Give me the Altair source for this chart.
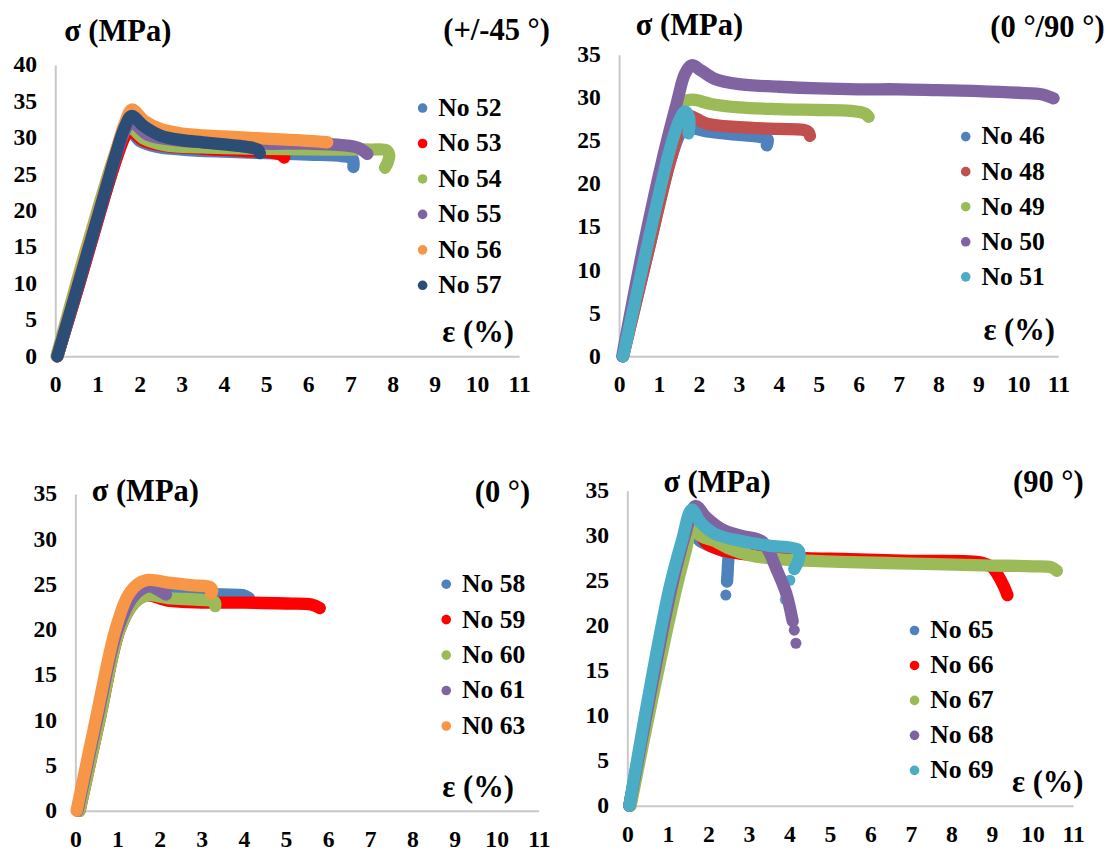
import altair as alt
import pandas as pd

FONT = "Liberation Serif"

# ---------------- Panel 1 (+/-45 °) ----------------
P1_NAMES = ["No 52", "No 53", "No 54", "No 55", "No 56", "No 57"]
P1_COLORS = ["#4F81BD", "#FF0000", "#9BBB59", "#8064A2", "#F79646", "#2C4D75"]
S52_X = [0.05, 0.57, 1.07, 1.47, 1.65, 1.78, 2.0, 2.4, 3.0, 4.0, 5.0, 6.0, 6.8, 7.05, 7.07]
S52_Y = [0, 10, 20, 27.5, 30.2, 31.0, 29.6, 28.8, 28.4, 28.1, 27.9, 27.7, 27.5, 27.1, 26.0]
S53_X = [0.05, 0.57, 1.07, 1.47, 1.65, 1.76, 2.1, 2.6, 3.5, 4.5, 5.1, 5.35, 5.43]
S53_Y = [0, 10, 20, 27.5, 30.2, 31.0, 29.6, 28.9, 28.5, 28.2, 28.0, 27.7, 27.3]
S54_X = [0.03, 0.5, 1.0, 1.4, 1.6, 1.76, 2.1, 2.6, 3.5, 5.0, 6.5, 7.5, 7.85, 7.92, 7.88, 7.82]
S54_Y = [0, 10, 20, 27.5, 30.5, 31.5, 29.9, 29.0, 28.7, 28.5, 28.4, 28.4, 28.3, 27.6, 26.6, 25.9]
S55_X = [0.05, 0.55, 1.05, 1.45, 1.65, 1.8, 2.2, 3.0, 4.0, 5.0, 6.0, 6.8, 7.2, 7.4]
S55_Y = [0, 10, 20, 27.8, 31.0, 32.2, 30.4, 29.6, 29.3, 29.2, 29.2, 29.0, 28.6, 27.8]
S56_X = [0.05, 0.53, 1.03, 1.43, 1.65, 1.82, 2.1, 2.5, 3.0, 4.0, 5.0, 6.0, 6.45]
S56_Y = [0, 10, 20, 28.0, 32.0, 33.9, 32.4, 31.2, 30.6, 30.2, 29.9, 29.6, 29.4]
S57_X = [0.05, 0.55, 1.05, 1.45, 1.65, 1.81, 2.1, 2.5, 3.0, 3.5, 4.0, 4.5, 4.8, 4.85]
S57_Y = [0, 10, 20, 28.0, 31.5, 33.0, 31.6, 30.3, 29.7, 29.4, 29.1, 28.8, 28.4, 27.9]

# ---------------- Panel 2 (0 °/90 °) ----------------
P2_NAMES = ["No 46", "No 48", "No 49", "No 50", "No 51"]
P2_COLORS = ["#4F81BD", "#C0504D", "#9BBB59", "#8064A2", "#4BACC6"]
S46_X = [0.1, 0.72, 1.3, 1.6, 1.8, 2.2, 3.0, 3.5, 3.72, 3.7]
S46_Y = [0, 12, 23, 26.3, 26.5, 26.1, 25.7, 25.5, 25.2, 24.5]
S48_X = [0.1, 0.72, 1.3, 1.6, 1.75, 2.2, 3.0, 4.0, 4.6, 4.75, 4.78]
S48_Y = [0, 12, 23, 27.3, 27.9, 27.0, 26.6, 26.4, 26.3, 26.0, 25.6]
S49_X = [0.1, 0.7, 1.25, 1.5, 1.65, 1.85, 2.3, 3.0, 4.0, 5.0, 5.8, 6.15, 6.25]
S49_Y = [0, 13, 24, 28.5, 29.6, 29.8, 29.3, 28.9, 28.7, 28.6, 28.5, 28.2, 27.8]
S50_X = [0.08, 0.6, 1.12, 1.45, 1.65, 1.82, 2.05, 2.4, 3.0, 4.0, 5.0, 6.0, 7.0, 8.0, 9.0, 10.0, 10.6, 10.88]
S50_Y = [0, 12.5, 23.5, 29.5, 32.8, 33.8, 33.2, 32.2, 31.6, 31.3, 31.1, 31.0, 31.0, 30.9, 30.8, 30.6, 30.4, 29.95]
S51_X = [0.1, 0.68, 1.26, 1.5, 1.65, 1.75, 1.76, 1.74]
S51_Y = [0, 12.3, 23.8, 27.3, 28.4, 27.8, 26.8, 25.9]

# ---------------- Panel 3 (0 °) ----------------
P3_NAMES = ["No 58", "No 59", "No 60", "No 61", "N0 63"]
P3_COLORS = ["#4F81BD", "#FF0000", "#9BBB59", "#8064A2", "#F79646"]
S58_X = [0.05, 0.52, 1.0, 1.35, 1.6, 1.9, 2.5, 3.0, 3.5, 4.0, 4.12]
S58_Y = [0, 10.2, 20, 23.5, 24.4, 24.6, 24.2, 24.0, 23.9, 23.8, 23.5]
S59_X = [0.1, 0.58, 1.05, 1.4, 1.7, 2.2, 3.0, 4.0, 5.0, 5.6, 5.8]
S59_Y = [0, 10.2, 20, 23, 23.8, 23.2, 23.0, 23.0, 22.9, 22.8, 22.4]
S60_X = [0.1, 0.58, 1.05, 1.4, 1.7, 2.2, 3.0, 3.3, 3.32]
S60_Y = [0, 10.2, 20, 23, 23.8, 23.5, 23.3, 23.1, 22.6]
S61_X = [0.05, 0.52, 1.0, 1.4, 1.75, 2.0, 2.15]
S61_Y = [0, 10.2, 20, 23.8, 24.8, 24.3, 23.9]
S63_X = [0.03, 0.48, 0.95, 1.25, 1.5, 1.75, 2.2, 2.8, 3.2, 3.25, 3.22]
S63_Y = [0, 10, 20, 23.8, 25.1, 25.5, 25.2, 24.9, 24.7, 24.3, 24.0]

# ---------------- Panel 4 (90 °) ----------------
P4_NAMES = ["No 65", "No 66", "No 67", "No 68", "No 69"]
P4_COLORS = ["#4F81BD", "#FF0000", "#9BBB59", "#8064A2", "#4BACC6"]
S65_X = [0.05, 0.52, 1.05, 1.4, 1.6, 1.75, 2.25, 2.47, 2.48, 2.46]
S65_Y = [0, 11.5, 23.5, 29.5, 31.8, 29.6, 28.5, 28.0, 26.5, 24.9]
S65_ISO_X = [2.43]
S65_ISO_Y = [23.4]
S66_X = [0.05, 0.55, 1.1, 1.45, 1.62, 1.75, 2.0, 2.5, 3.5, 4.4, 5.5, 7.0, 8.75, 9.0, 9.12, 9.3, 9.38]
S66_Y = [0, 11.5, 23.5, 29.5, 30.7, 30.3, 29.0, 28.2, 27.7, 27.5, 27.4, 27.2, 27.0, 26.5, 25.8, 24.3, 23.4]
S67_X = [0.08, 0.62, 1.2, 1.45, 1.6, 1.8, 2.16, 2.5, 3.04, 4.0, 5.24, 7.0, 8.76, 10.0, 10.45, 10.6]
S67_Y = [0, 12, 24, 28.5, 31.1, 30.0, 29.4, 28.6, 27.8, 27.3, 27.1, 26.9, 26.7, 26.6, 26.5, 26.1]
S68_X = [0.05, 0.55, 1.08, 1.42, 1.68, 1.95, 2.34, 2.8, 3.31, 3.5, 3.66, 3.92, 4.08]
S68_Y = [0, 12, 24, 30, 33.3, 32.0, 30.7, 30.0, 29.4, 28.2, 26.5, 23.6, 20.5]
S68_ISO_X = [4.12, 4.16]
S68_ISO_Y = [19.5, 18.05]
S69_X = [0.05, 0.51, 1.03, 1.35, 1.59, 1.8, 2.16, 2.8, 3.48, 4.19, 4.25, 4.2, 4.12]
S69_Y = [0, 11.9, 24, 29.5, 32.9, 31.5, 30.2, 29.4, 28.9, 28.5, 28.0, 27.0, 26.3]
S69_ISO_X = [4.01, 3.9]
S69_ISO_Y = [25.05, 22.9]

X_TICKS = list(range(0, 12))


def frame(series):
    rows = []
    for name, xs, ys, ix, iy in series:
        for i, (a, b) in enumerate(zip(xs, ys)):
            rows.append({"series": name, "x": a, "y": b, "i": i, "iso": 0})
        for j, (a, b) in enumerate(zip(ix, iy)):
            rows.append({"series": name, "x": a, "y": b, "i": 1000 + j, "iso": 1})
    return pd.DataFrame(rows)


def panel(df, names, colors, ymax, width, height, xr, yr, yoff, leg, texts, row_pad):
    axis_common = dict(
        title=None, grid=False, ticks=False, domainColor="#C8C8C8", domainWidth=2,
        labelFont=FONT, labelFontSize=24, labelFontWeight="bold", labelColor="black",
        labelOverlap=False, labelFlush=False,
    )
    x = alt.X("x:Q", scale=alt.Scale(domain=[0, 11], range=xr, nice=False, zero=False),
              axis=alt.Axis(values=X_TICKS, labelPadding=17, **axis_common))
    y = alt.Y("y:Q", scale=alt.Scale(domain=[0, ymax], range=yr, nice=False, zero=False),
              axis=alt.Axis(values=list(range(0, ymax + 1, 5)), labelPadding=19, offset=yoff,
                            **axis_common))
    cscale = alt.Scale(domain=names, range=colors)
    legend = alt.Legend(
        orient="none", legendX=leg[0], legendY=leg[1], title=None, symbolType="circle",
        symbolSize=95, symbolOpacity=1, symbolStrokeWidth=0, labelFont=FONT, labelFontSize=26,
        labelFontWeight="bold", labelColor="black", rowPadding=row_pad, padding=0, labelOffset=3,
    )
    base = alt.Chart(df)
    pts = base.mark_circle(size=125, opacity=1).encode(
        x=x, y=y, color=alt.Color("series:N", scale=cscale, legend=legend))
    lines = base.transform_filter("datum.iso == 0").mark_line(
        strokeWidth=12.5, strokeCap="round", strokeJoin="round", interpolate="catmull-rom"
    ).encode(
        x=x, y=y, color=alt.Color("series:N", scale=cscale, legend=None), order="i:Q")
    layers = [pts, lines]
    for txt, tx, ty in texts:
        layers.append(
            alt.Chart(pd.DataFrame({"t": [txt]})).mark_text(
                align="left", baseline="alphabetic", font=FONT, fontWeight="bold",
                fontSize=31, color="black").encode(
                text="t:N", x=alt.value(tx), y=alt.value(ty)))
    return alt.layer(*layers).properties(width=width, height=height)


df1 = frame([
    ("No 52", S52_X, S52_Y, [], []), ("No 53", S53_X, S53_Y, [], []),
    ("No 54", S54_X, S54_Y, [], []), ("No 55", S55_X, S55_Y, [], []),
    ("No 56", S56_X, S56_Y, [], []), ("No 57", S57_X, S57_Y, [], []),
])
df2 = frame([
    ("No 46", S46_X, S46_Y, [], []), ("No 48", S48_X, S48_Y, [], []),
    ("No 49", S49_X, S49_Y, [], []), ("No 50", S50_X, S50_Y, [], []),
    ("No 51", S51_X, S51_Y, [], []),
])
df3 = frame([
    ("No 58", S58_X, S58_Y, [], []), ("No 59", S59_X, S59_Y, [], []),
    ("No 60", S60_X, S60_Y, [], []), ("No 61", S61_X, S61_Y, [], []),
    ("N0 63", S63_X, S63_Y, [], []),
])
df4 = frame([
    ("No 65", S65_X, S65_Y, S65_ISO_X, S65_ISO_Y), ("No 66", S66_X, S66_Y, [], []),
    ("No 67", S67_X, S67_Y, [], []), ("No 68", S68_X, S68_Y, S68_ISO_X, S68_ISO_Y),
    ("No 69", S69_X, S69_Y, S69_ISO_X, S69_ISO_Y),
])

p1 = panel(df1, P1_NAMES, P1_COLORS, 40, 471, 304, [0, 471], [304, 8.4], 0,
           (360, 39), [("σ (MPa)", 9, -16), ("(+/-45 °)", 394, -17), ("ε (%)", 393, 290)], 10)
p2 = panel(df2, P2_NAMES, P2_COLORS, 35, 446, 304, [0, 446], [304, -2], 0,
           (339, 68), [("σ (MPa)", 17, -22), ("(0 °/90 °)", 377, -20), ("ε (%)", 370, 288)], 9.6)
p3 = panel(df3, P3_NAMES, P3_COLORS, 35, 491, 325, [20.4, 491], [325, 3.4], -20.4,
           (384, 82), [("σ (MPa)", 37, 11), ("(0 °)", 426, 12), ("ε (%)", 393, 311)], 10)
p4 = panel(df4, P4_NAMES, P4_COLORS, 35, 461, 320, [8.4, 461], [320, 0], -8.4,
           (287, 129), [("σ (MPa)", 45, 1), ("(90 °)", 400, 1), ("ε (%)", 399, 306)], 9.5)

chart = alt.ConcatChart(
    concat=[p1, p2, p3, p4], columns=2, spacing={"row": 136.5, "column": 81.5},
    bounds="flush", align="each",
).resolve_scale(
    color="independent", x="independent", y="independent"
).resolve_legend(
    color="independent"
).properties(
    padding={"left": 5, "top": -4, "right": 5, "bottom": 5},
    background="white",
).configure_view(stroke=None)

chart.save("out.html", embed_options={"renderer": "svg", "actions": False})
